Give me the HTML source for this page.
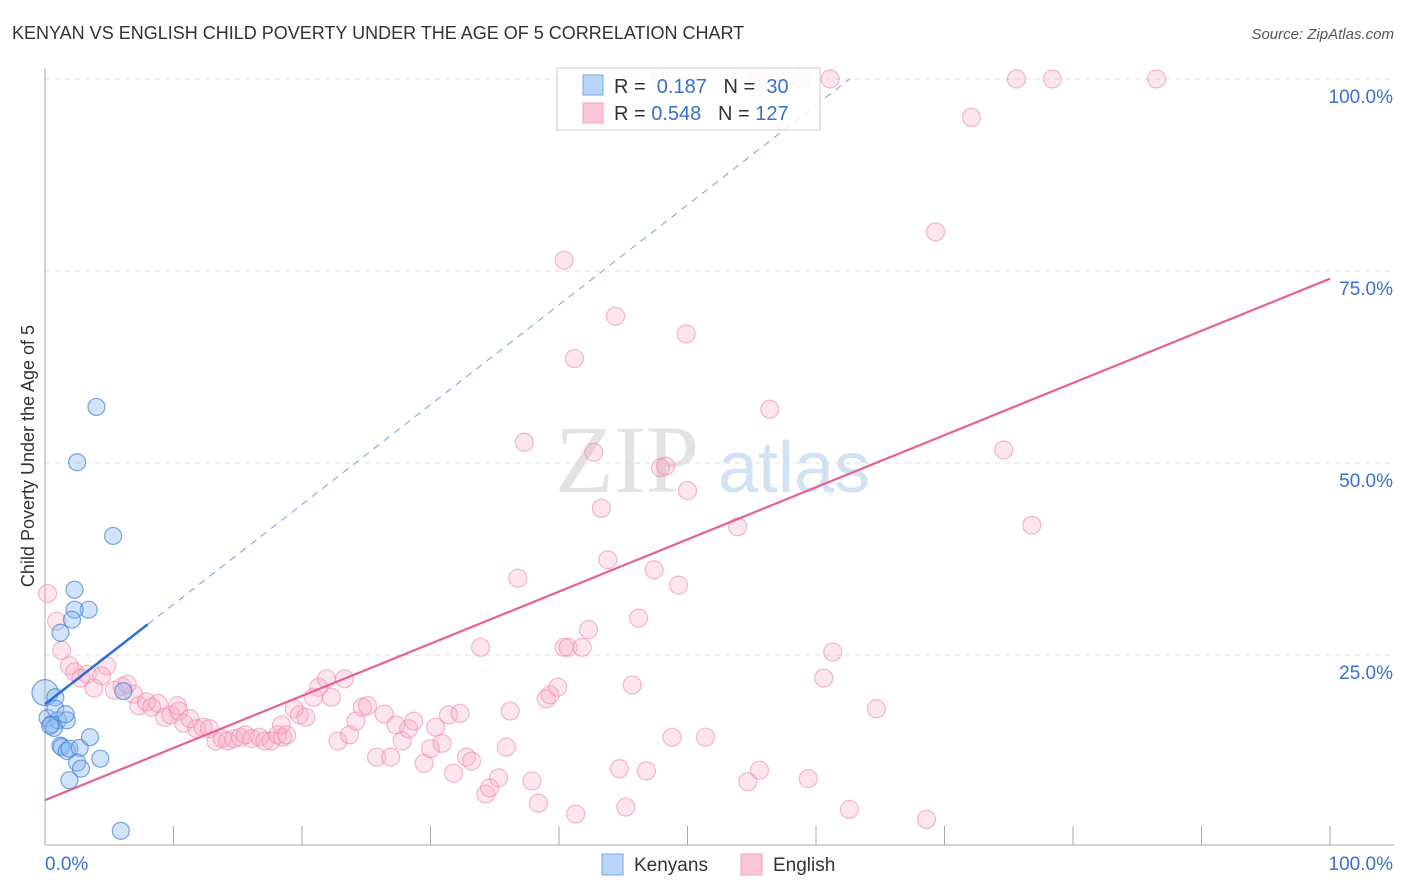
<!DOCTYPE html>
<html><head><meta charset="utf-8"><style>
body{margin:0;background:#fff;font-family:"Liberation Sans",sans-serif}
svg{display:block}
</style></head><body>
<svg width="1406" height="892" viewBox="0 0 1406 892" xmlns="http://www.w3.org/2000/svg">
<text x="12" y="39" font-size="18" fill="#333">KENYAN VS ENGLISH CHILD POVERTY UNDER THE AGE OF 5 CORRELATION CHART</text>
<text x="1394" y="39" font-size="15" font-style="italic" fill="#555" text-anchor="end">Source: ZipAtlas.com</text>
<g>
<text x="555" y="492" font-size="96" font-family="Liberation Serif,serif" fill="#ddd" opacity="0.8">ZIP</text>
<text x="718" y="492" font-size="72" fill="#c8dcf2" opacity="0.8">atlas</text>
</g>
<g id="grid"></g>
<g id="axes"></g>
<g id="marks"></g>
<text transform="translate(34,456) rotate(-90)" font-size="18" fill="#333" text-anchor="middle">Child Poverty Under the Age of 5</text>
<g>
<rect x="557" y="68" width="263" height="62" fill="#fff" fill-opacity="0.85" stroke="#ccc"/>
<rect x="583" y="75" width="20" height="20" fill="#b8d4f6" stroke="#7aa6e6"/>
<rect x="583" y="103" width="20" height="20" fill="#fcc8d8" stroke="#f0a0b8"/>
<text x="614" y="93" font-size="20" fill="#333">R = <tspan fill="#3b6fd0">&#160;0.187</tspan>&#160;&#160; N = <tspan fill="#3b6fd0">&#160;30</tspan></text>
<text x="614" y="120" font-size="20" fill="#333">R = <tspan fill="#3b6fd0">0.548</tspan>&#160;&#160; N = <tspan fill="#3b6fd0">127</tspan></text>
</g>
<g>
<rect x="602" y="854" width="21" height="21" fill="#b8d4f6" stroke="#7aa6e6"/>
<text x="634" y="871" font-size="19" fill="#333">Kenyans</text>
<rect x="741" y="854" width="21" height="21" fill="#fcc8d8" stroke="#f0a0b8"/>
<text x="773" y="871" font-size="19" fill="#333">English</text>
</g>
</svg>
<script>
const yTicks=[100,75,50,25];
const yTickLabels=["100.0%","75.0%","50.0%","25.0%"];
const xTickLabels=["0.0%","100.0%"];
const kenyanX=[0,0.8,0.2,0.5,1.0,1.7,0.7,0.4,1.2,1.3,1.7,1.9,2.7,2.5,2.8,1.9,4.3,3.5,3.4,2.3,2.3,2.1,1.2,4.0,2.5,5.3,5.9,6.1,0.8,1.6];
const kenyanY=[20.1,19.5,16.8,16.0,16.5,16.5,15.5,15.8,13.2,13.0,12.5,12.8,12.9,11.0,10.2,8.7,11.5,14.3,30.9,30.9,33.5,29.6,27.9,57.3,50.1,40.5,2.1,20.3,18.0,17.3];
const englishX=[0.2,0.9,1.3,1.9,2.3,2.8,3.3,3.8,4.4,4.8,5.4,6.0,6.4,6.9,7.3,7.9,8.3,8.8,9.3,9.8,10.3,10.4,10.8,11.3,11.8,12.3,12.8,13.3,13.8,14.2,14.7,15.2,15.6,16.1,16.7,17.1,17.6,18.1,18.5,18.8,18.4,19.4,19.8,20.3,20.9,21.3,21.9,22.3,22.8,23.3,23.7,24.2,24.7,25.1,25.8,26.4,26.9,27.3,27.8,28.3,28.7,29.5,30.0,30.4,30.9,31.4,31.8,32.3,32.8,33.2,33.9,34.3,34.6,35.3,35.9,36.2,36.8,37.3,37.9,38.4,39.0,39.3,39.9,40.4,40.7,41.2,41.8,42.3,42.7,43.3,43.8,44.4,44.7,45.2,45.7,46.2,46.8,47.4,47.9,48.3,48.8,49.3,49.9,50.0,51.4,53.9,54.2,54.7,55.6,56.4,58.8,59.4,60.6,61.1,61.3,62.6,64.7,68.6,69.3,72.1,74.6,75.6,76.8,78.4,86.5,41.3,40.4,47.9,55.6];
const englishY=[33.0,29.4,25.6,23.6,22.8,22.0,22.5,20.7,22.3,23.6,20.4,20.9,21.2,19.9,18.4,18.9,18.2,18.7,16.9,17.2,18.4,17.7,16.1,16.7,15.4,15.6,15.4,13.8,14.1,13.8,14.1,14.3,14.6,14.1,14.3,13.8,13.8,14.6,14.3,14.6,15.9,18.0,17.2,16.9,19.5,20.8,21.9,19.5,13.8,21.9,14.6,16.4,18.2,18.4,11.7,17.3,11.7,15.9,13.8,15.4,16.4,10.9,12.8,15.6,13.5,17.2,9.6,17.4,11.7,11.2,26.0,6.9,7.7,9.0,13.0,17.7,35.0,52.7,8.6,5.7,19.3,19.8,20.8,26.0,26.0,63.6,26.0,28.3,51.4,44.1,37.4,69.1,10.2,5.2,21.1,29.8,9.9,36.1,49.4,49.6,14.3,34.1,66.8,46.4,14.3,41.7,100,8.5,10.0,57.0,100,8.9,22.0,100,25.4,4.9,18.0,3.6,80.1,95.0,51.7,100,41.9,100,100,4.3,76.4,100,100.1,100.5,100,99.7];
const kenyanLine=[18.6,1.3];  // intercept, slope
const kenyanSolidEnd=8;
const englishLine=[6.1,0.679];

const NS="http://www.w3.org/2000/svg";
const X0=45,X1=1330,Y0=847,Y1=79;
const sx=v=>X0+(X1-X0)*v/100;
const sy=v=>Y0-(Y0-Y1)*v/100;
function mk(tag,attrs,parent){const e=document.createElementNS(NS,tag);for(const k in attrs)e.setAttribute(k,attrs[k]);parent.appendChild(e);return e;}
const grid=document.getElementById('grid'),axes=document.getElementById('axes'),marks=document.getElementById('marks');
yTicks.forEach((t,i)=>{
  const l=mk('line',{x1:X0,x2:1394,y1:sy(t),y2:sy(t),stroke:'#ddd','stroke-dasharray':'5,5'},grid);
  
  
  const tx=mk('text',{x:1393,y:sy(t)+24,'font-size':19,fill:'#3b6fd0','text-anchor':'end'},axes);
  tx.textContent=yTickLabels[i];
  
  
});
let a=mk('line',{x1:X0,x2:X0,y1:68,y2:845,stroke:'#aaa'},axes);


a=mk('line',{x1:X0,x2:1394,y1:845,y2:845,stroke:'#aaa'},axes);


for(let i=0;i<=10;i++){
  const t=mk('line',{x1:sx(i*10),x2:sx(i*10),y1:826,y2:845,stroke:'#aaa'},axes);
  
  
}
let t0=mk('text',{x:45,y:870,'font-size':19,fill:'#3b6fd0'},axes);t0.textContent=xTickLabels[0];


t0=mk('text',{x:1393,y:870,'font-size':19,fill:'#3b6fd0','text-anchor':'end'},axes);t0.textContent=xTickLabels[1];



englishX.forEach((x,i)=>{
  const c=mk('circle',{cx:sx(x),cy:sy(englishY[i]),r:9,fill:'rgba(248,170,195,0.3)',stroke:'rgba(236,140,170,0.6)','stroke-width':1.2},marks);
  
  
});
kenyanX.forEach((x,i)=>{
  const c=mk('circle',{cx:sx(x),cy:sy(kenyanY[i]),r:i===0?13:8.5,fill:'rgba(140,185,240,0.4)',stroke:'rgba(70,130,215,0.7)','stroke-width':1.2},marks);
  
  
});
const ef=x=>englishLine[0]+englishLine[1]*x;
let ln=mk('line',{x1:sx(0),y1:sy(ef(0)),x2:sx(100),y2:sy(ef(100)),stroke:'#e8608e','stroke-width':2.2},marks);


const kf=x=>kenyanLine[0]+kenyanLine[1]*x;
const kEnd=(100-kenyanLine[0])/kenyanLine[1];
ln=mk('line',{x1:sx(kenyanSolidEnd),y1:sy(kf(kenyanSolidEnd)),x2:sx(kEnd),y2:sy(kf(kEnd)),stroke:'#7aa0dd','stroke-width':1,'stroke-dasharray':'7,6'},marks);


ln=mk('line',{x1:sx(0),y1:sy(kf(0)),x2:sx(kenyanSolidEnd),y2:sy(kf(kenyanSolidEnd)),stroke:'#2a6fd6','stroke-width':2.5},marks);


</script>
</body></html>
